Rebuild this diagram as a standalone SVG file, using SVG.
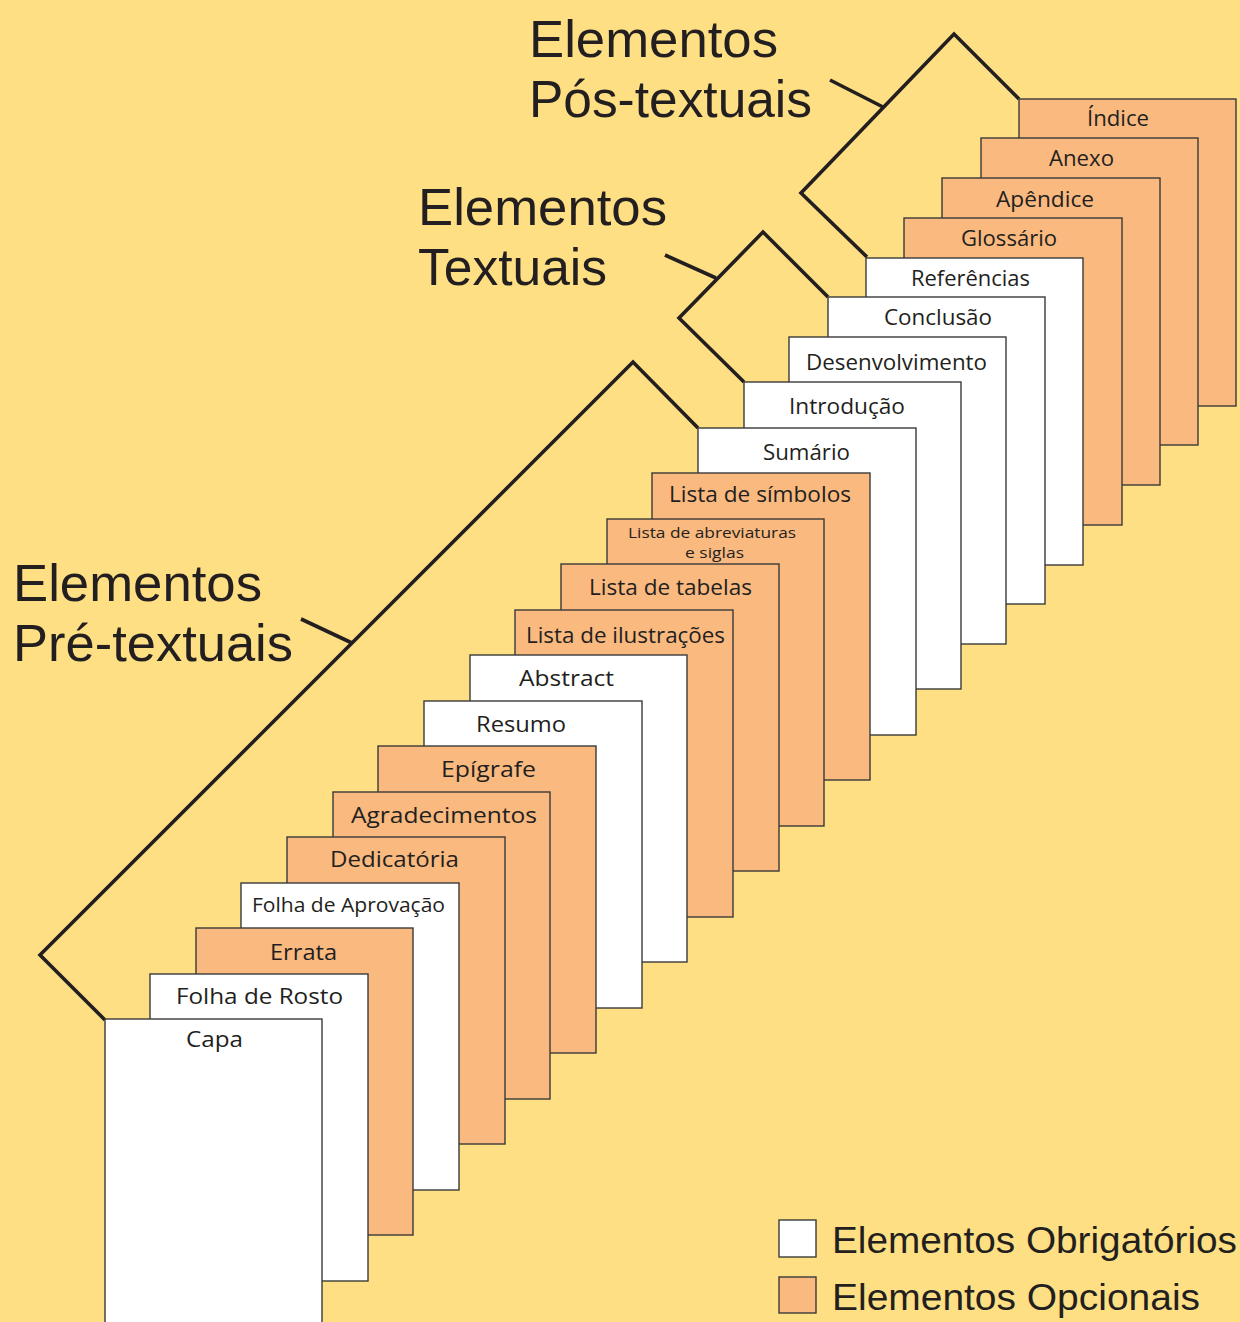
<svg xmlns="http://www.w3.org/2000/svg" width="1240" height="1322" viewBox="0 0 1240 1322">
<style>
.bg{fill:#FEDF83}
.w{fill:#FFFFFF;stroke:#3a3a3a;stroke-width:1.4}
.o{fill:#F9B97F;stroke:#3a3a3a;stroke-width:1.4}
.lb{font-family:"Open Sans","Noto Sans","Liberation Sans",sans-serif;font-size:22px;fill:#231f20}
.sm{font-size:20px}
.xs{font-size:14px}
.big{font-family:"Liberation Sans",Arial,sans-serif;font-size:52px;fill:#231f20}
.leg{font-family:"Liberation Sans",Arial,sans-serif;font-size:36px;fill:#231f20}
.br{fill:none;stroke:#231f20;stroke-width:3.6;stroke-linejoin:miter}
</style>
<rect class="bg" x="0" y="0" width="1240" height="1322"/>

<g id="labels">
<text class="big" x="529" y="57" textLength="249" lengthAdjust="spacingAndGlyphs">Elementos</text>
<text class="big" x="529" y="117" textLength="283" lengthAdjust="spacingAndGlyphs">Pós-textuais</text>
<text class="big" x="418" y="225" textLength="249" lengthAdjust="spacingAndGlyphs">Elementos</text>
<text class="big" x="418" y="285" textLength="189" lengthAdjust="spacingAndGlyphs">Textuais</text>
<text class="big" x="13" y="601" textLength="249" lengthAdjust="spacingAndGlyphs">Elementos</text>
<text class="big" x="13" y="661" textLength="280" lengthAdjust="spacingAndGlyphs">Pré-textuais</text>
</g>

<g id="connectors">
<polyline class="br" points="867,257 801,193 954,34 1019,99"/>
<line class="br" x1="830" y1="80" x2="883" y2="107"/>
<polyline class="br" points="744,382 679,318 763,232 828,297"/>
<line class="br" x1="665" y1="255" x2="716" y2="278"/>
<polyline class="br" points="105,1020 40,955 633,362 698,428"/>
<line class="br" x1="301" y1="619" x2="352" y2="643"/>
</g>

<g id="indice"><rect class="o" x="1019" y="99" width="217" height="307"/><text class="lb" x="1087" y="126" textLength="62" lengthAdjust="spacingAndGlyphs">Índice</text></g>
<g id="anexo"><rect class="o" x="981" y="138" width="217" height="307"/><text class="lb" x="1049" y="166" textLength="65" lengthAdjust="spacingAndGlyphs">Anexo</text></g>
<g id="apendice"><rect class="o" x="942" y="178" width="218" height="307"/><text class="lb" x="996" y="207" textLength="98" lengthAdjust="spacingAndGlyphs">Apêndice</text></g>
<g id="glossario"><rect class="o" x="904" y="218" width="218" height="307"/><text class="lb" x="961" y="246" textLength="96" lengthAdjust="spacingAndGlyphs">Glossário</text></g>
<g id="referencias"><rect class="w" x="866" y="258" width="217" height="307"/><text class="lb" x="911" y="286" textLength="119" lengthAdjust="spacingAndGlyphs">Referências</text></g>
<g id="conclusao"><rect class="w" x="828" y="297" width="217" height="307"/><text class="lb" x="884" y="325" textLength="108" lengthAdjust="spacingAndGlyphs">Conclusão</text></g>
<g id="desenvolvimento"><rect class="w" x="789" y="337" width="217" height="307"/><text class="lb" x="806" y="370" textLength="181" lengthAdjust="spacingAndGlyphs">Desenvolvimento</text></g>
<g id="introducao"><rect class="w" x="744" y="382" width="217" height="307"/><text class="lb" x="789" y="414" textLength="116" lengthAdjust="spacingAndGlyphs">Introdução</text></g>
<g id="sumario"><rect class="w" x="698" y="428" width="218" height="307"/><text class="lb" x="763" y="460" textLength="87" lengthAdjust="spacingAndGlyphs">Sumário</text></g>
<g id="lista-simbolos"><rect class="o" x="652" y="473" width="218" height="307"/><text class="lb" x="669" y="502" textLength="182" lengthAdjust="spacingAndGlyphs">Lista de símbolos</text></g>
<g id="lista-abreviaturas"><rect class="o" x="607" y="519" width="217" height="307"/><text class="lb xs" x="628" y="538" textLength="168" lengthAdjust="spacingAndGlyphs">Lista de abreviaturas</text><text class="lb xs" x="685" y="558" textLength="59" lengthAdjust="spacingAndGlyphs">e siglas</text></g>
<g id="lista-tabelas"><rect class="o" x="561" y="564" width="218" height="307"/><text class="lb" x="589" y="595" textLength="163" lengthAdjust="spacingAndGlyphs">Lista de tabelas</text></g>
<g id="lista-ilustracoes"><rect class="o" x="515" y="610" width="218" height="307"/><text class="lb" x="526" y="643" textLength="199" lengthAdjust="spacingAndGlyphs">Lista de ilustrações</text></g>
<g id="abstract"><rect class="w" x="470" y="655" width="217" height="307"/><text class="lb" x="519" y="686" textLength="95" lengthAdjust="spacingAndGlyphs">Abstract</text></g>
<g id="resumo"><rect class="w" x="424" y="701" width="218" height="307"/><text class="lb" x="476" y="732" textLength="90" lengthAdjust="spacingAndGlyphs">Resumo</text></g>
<g id="epigrafe"><rect class="o" x="378" y="746" width="218" height="307"/><text class="lb" x="441" y="777" textLength="95" lengthAdjust="spacingAndGlyphs">Epígrafe</text></g>
<g id="agradecimentos"><rect class="o" x="333" y="792" width="217" height="307"/><text class="lb" x="351" y="823" textLength="186" lengthAdjust="spacingAndGlyphs">Agradecimentos</text></g>
<g id="dedicatoria"><rect class="o" x="287" y="837" width="218" height="307"/><text class="lb" x="330" y="867" textLength="129" lengthAdjust="spacingAndGlyphs">Dedicatória</text></g>
<g id="folha-aprovacao"><rect class="w" x="241" y="883" width="218" height="307"/><text class="lb sm" x="252" y="912" textLength="193" lengthAdjust="spacingAndGlyphs">Folha de Aprovação</text></g>
<g id="errata"><rect class="o" x="196" y="928" width="217" height="307"/><text class="lb" x="270" y="960" textLength="67" lengthAdjust="spacingAndGlyphs">Errata</text></g>
<g id="folha-rosto"><rect class="w" x="150" y="974" width="218" height="307"/><text class="lb" x="176" y="1004" textLength="167" lengthAdjust="spacingAndGlyphs">Folha de Rosto</text></g>
<g id="capa"><rect class="w" x="105" y="1019" width="217" height="320"/><text class="lb" x="186" y="1047" textLength="57" lengthAdjust="spacingAndGlyphs">Capa</text></g>

<g id="legend">
<rect class="w" x="779" y="1220" width="37" height="37"/>
<text class="leg" x="832" y="1253" textLength="405" lengthAdjust="spacingAndGlyphs">Elementos Obrigatórios</text>
<rect class="o" x="779" y="1277" width="37" height="36"/>
<text class="leg" x="832" y="1310" textLength="368" lengthAdjust="spacingAndGlyphs">Elementos Opcionais</text>
</g>
</svg>
